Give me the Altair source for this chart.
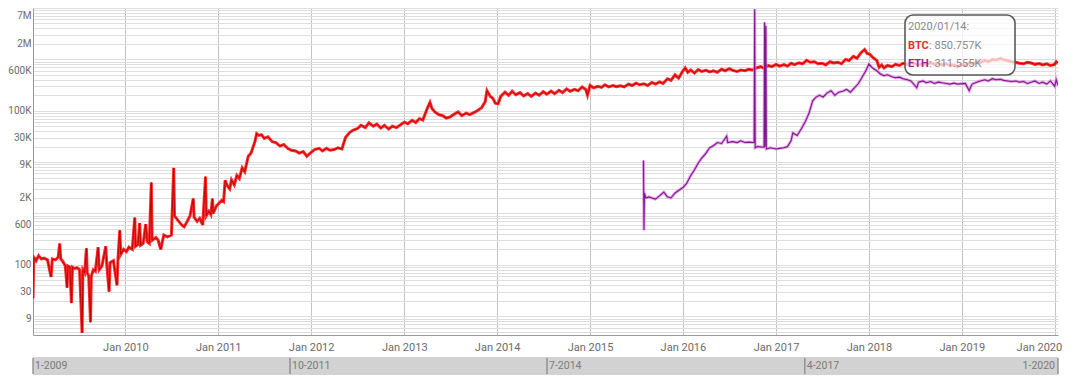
import altair as alt
import pandas as pd

# ---------------- data ----------------
btc_2009 = [
    ("2009-01-03", 22), ("2009-01-06", 140), ("2009-01-15", 120), ("2009-01-25", 150),
    ("2009-02-05", 130), ("2009-02-15", 135), ("2009-03-01", 125), ("2009-03-15", 58),
    ("2009-03-20", 130), ("2009-04-01", 125), ("2009-04-12", 140), ("2009-04-18", 260),
    ("2009-04-22", 130), ("2009-05-01", 115), ("2009-05-10", 95), ("2009-05-17", 36),
    ("2009-05-20", 95), ("2009-05-28", 90), ("2009-06-03", 18), ("2009-06-07", 90),
    ("2009-06-15", 85), ("2009-06-25", 88), ("2009-07-05", 80), ("2009-07-15", 4.7),
    ("2009-07-18", 80), ("2009-07-25", 70), ("2009-08-01", 210), ("2009-08-04", 70),
    ("2009-08-10", 60), ("2009-08-17", 7.6), ("2009-08-20", 60), ("2009-08-28", 80),
    ("2009-09-05", 75), ("2009-09-16", 220), ("2009-09-20", 80), ("2009-10-01", 95),
    ("2009-10-16", 230), ("2009-10-20", 100), ("2009-10-29", 30), ("2009-11-02", 110),
    ("2009-11-15", 120), ("2009-11-29", 40), ("2009-12-03", 130), ("2009-12-10", 470),
    ("2009-12-14", 160), ("2009-12-25", 200),
]
btc_2010 = [
    ("2010-01-05", 180), ("2010-01-15", 220), ("2010-01-28", 200), ("2010-02-07", 830),
    ("2010-02-10", 230), ("2010-02-20", 250), ("2010-02-26", 650), ("2010-03-02", 240),
    ("2010-03-12", 260), ("2010-03-22", 620), ("2010-03-28", 280), ("2010-04-05", 260),
    ("2010-04-13", 4000), ("2010-04-16", 300), ("2010-05-01", 340), ("2010-05-10", 300),
    ("2010-05-20", 200), ("2010-06-01", 380), ("2010-06-15", 350), ("2010-07-01", 380),
    ("2010-07-10", 7700), ("2010-07-13", 900), ("2010-07-25", 750), ("2010-08-10", 600),
    ("2010-08-20", 550), ("2010-09-01", 700), ("2010-09-12", 900), ("2010-09-25", 1950),
    ("2010-09-28", 850), ("2010-10-10", 700), ("2010-10-20", 800), ("2010-11-01", 600),
    ("2010-11-12", 5200), ("2010-11-15", 900), ("2010-11-25", 1100), ("2010-12-03", 950),
    ("2010-12-09", 1950), ("2010-12-12", 1000), ("2010-12-25", 1400),
]
btc_2011 = [
    ("2011-01-05", 1600), ("2011-01-15", 1800), ("2011-01-22", 1700), ("2011-01-28", 4400),
    ("2011-02-05", 3500), ("2011-02-15", 3000), ("2011-02-22", 4500), ("2011-03-05", 3600),
    ("2011-03-15", 5500), ("2011-03-25", 4800), ("2011-04-05", 7700), ("2011-04-15", 6500),
    ("2011-04-29", 13000), ("2011-05-10", 15000), ("2011-05-25", 25000), ("2011-06-01", 35800),
    ("2011-06-10", 33000), ("2011-06-20", 34000), ("2011-07-01", 29000), ("2011-07-15", 31000),
    ("2011-08-01", 25000), ("2011-08-15", 24000), ("2011-09-01", 20500), ("2011-09-15", 22000),
    ("2011-10-01", 18500), ("2011-10-15", 17000), ("2011-11-01", 16500), ("2011-11-15", 15000),
    ("2011-12-01", 16000), ("2011-12-15", 13000),
]
btc_2012 = [
    ("2012-01-01", 15500), ("2012-01-15", 17500), ("2012-02-01", 18500), ("2012-02-15", 16500),
    ("2012-03-01", 18500), ("2012-03-15", 17000), ("2012-04-01", 17500), ("2012-04-15", 19000),
    ("2012-05-01", 18000), ("2012-05-15", 30000), ("2012-06-01", 38000), ("2012-06-15", 42000),
    ("2012-07-01", 45000), ("2012-07-15", 52000), ("2012-08-01", 47000), ("2012-08-15", 58000),
    ("2012-09-01", 50000), ("2012-09-15", 55000), ("2012-10-01", 46000), ("2012-10-15", 52000),
    ("2012-11-01", 44000), ("2012-11-15", 50000), ("2012-12-01", 47000), ("2012-12-15", 52000),
]
btc_2013 = [
    ("2013-01-01", 60000), ("2013-01-15", 56000), ("2013-02-01", 65000), ("2013-02-15", 59000),
    ("2013-03-01", 70000), ("2013-03-15", 66000), ("2013-04-01", 110000), ("2013-04-12", 145000),
    ("2013-04-20", 110000), ("2013-05-01", 95000), ("2013-05-15", 85000), ("2013-06-01", 80000),
    ("2013-06-15", 72000), ("2013-07-01", 76000), ("2013-07-15", 85000), ("2013-08-01", 95000),
    ("2013-08-15", 80000), ("2013-09-01", 90000), ("2013-09-15", 84000), ("2013-10-01", 92000),
    ("2013-10-15", 100000), ("2013-11-01", 115000), ("2013-11-15", 150000), ("2013-11-22", 245000),
    ("2013-12-05", 190000), ("2013-12-15", 175000), ("2013-12-25", 140000),
]
btc_2014 = [
    ("2014-01-05", 137000), ("2014-01-15", 190000), ("2014-02-01", 230000), ("2014-02-15", 200000),
    ("2014-03-01", 240000), ("2014-03-15", 205000), ("2014-04-01", 225000), ("2014-04-15", 195000),
    ("2014-05-01", 215000), ("2014-05-15", 190000), ("2014-06-01", 220000), ("2014-06-15", 200000),
    ("2014-07-01", 235000), ("2014-07-15", 210000), ("2014-08-01", 240000), ("2014-08-15", 215000),
    ("2014-09-01", 250000), ("2014-09-15", 225000), ("2014-10-01", 265000), ("2014-10-15", 240000),
    ("2014-11-01", 260000), ("2014-11-15", 245000), ("2014-12-01", 290000), ("2014-12-15", 260000),
    ("2014-12-22", 200000),
]
btc_2015 = [
    ("2015-01-01", 310000), ("2015-01-15", 280000), ("2015-02-01", 300000), ("2015-02-15", 285000),
    ("2015-03-01", 320000), ("2015-03-15", 290000), ("2015-04-01", 310000), ("2015-04-15", 295000),
    ("2015-05-01", 305000), ("2015-05-15", 290000), ("2015-06-01", 330000), ("2015-06-15", 310000),
    ("2015-07-01", 345000), ("2015-07-15", 320000), ("2015-08-01", 335000), ("2015-08-15", 310000),
    ("2015-09-01", 355000), ("2015-09-15", 330000), ("2015-10-01", 365000), ("2015-10-15", 340000),
    ("2015-11-01", 420000), ("2015-11-15", 390000), ("2015-12-01", 500000), ("2015-12-15", 430000),
]
btc_2016 = [
    ("2016-01-01", 600000), ("2016-01-10", 680000), ("2016-01-20", 560000), ("2016-02-01", 620000),
    ("2016-02-15", 540000), ("2016-03-01", 630000), ("2016-03-15", 580000), ("2016-04-01", 610000),
    ("2016-04-15", 570000), ("2016-05-01", 600000), ("2016-05-15", 560000), ("2016-06-01", 640000),
    ("2016-06-15", 600000), ("2016-07-01", 660000), ("2016-07-15", 610000), ("2016-08-01", 580000),
    ("2016-08-15", 620000), ("2016-09-01", 600000), ("2016-09-15", 640000), ("2016-10-01", 620000),
    ("2016-10-15", 680000), ("2016-11-01", 720000), ("2016-11-15", 670000), ("2016-12-01", 760000),
    ("2016-12-15", 720000),
]
btc_2017 = [
    ("2017-01-01", 800000), ("2017-01-15", 740000), ("2017-02-01", 790000), ("2017-02-15", 740000),
    ("2017-03-01", 840000), ("2017-03-15", 790000), ("2017-04-01", 860000), ("2017-04-15", 820000),
    ("2017-05-01", 960000), ("2017-05-15", 880000), ("2017-06-01", 900000), ("2017-06-15", 820000),
    ("2017-07-01", 840000), ("2017-07-15", 780000), ("2017-08-01", 900000), ("2017-08-15", 850000),
    ("2017-09-01", 880000), ("2017-09-15", 820000), ("2017-10-01", 1000000), ("2017-10-15", 950000),
    ("2017-11-01", 1150000), ("2017-11-15", 1050000), ("2017-12-01", 1350000), ("2017-12-15", 1550000),
    ("2017-12-25", 1300000),
]
btc_2018 = [
    ("2018-01-05", 1250000), ("2018-01-15", 1100000), ("2018-02-01", 950000), ("2018-02-10", 700000),
    ("2018-02-20", 780000), ("2018-03-01", 680000), ("2018-03-15", 760000), ("2018-04-01", 720000),
    ("2018-04-15", 800000), ("2018-05-01", 760000), ("2018-05-15", 840000), ("2018-06-01", 800000),
    ("2018-06-15", 870000), ("2018-07-01", 820000), ("2018-07-15", 780000), ("2018-08-01", 840000),
    ("2018-08-15", 790000), ("2018-09-01", 860000), ("2018-09-15", 800000), ("2018-10-01", 840000),
    ("2018-10-15", 780000), ("2018-11-01", 820000), ("2018-11-15", 760000), ("2018-12-01", 780000),
    ("2018-12-15", 720000),
]
btc_2019 = [
    ("2019-01-01", 800000), ("2019-01-15", 760000), ("2019-02-01", 860000), ("2019-02-15", 820000),
    ("2019-03-01", 900000), ("2019-03-15", 860000), ("2019-04-01", 960000), ("2019-04-15", 900000),
    ("2019-05-01", 1000000), ("2019-05-15", 960000), ("2019-06-01", 1050000), ("2019-06-15", 980000),
    ("2019-07-01", 950000), ("2019-07-15", 900000), ("2019-08-01", 880000), ("2019-08-15", 840000),
    ("2019-09-01", 820000), ("2019-09-15", 880000), ("2019-10-01", 850000), ("2019-10-15", 800000),
    ("2019-11-01", 830000), ("2019-11-15", 780000), ("2019-12-01", 820000), ("2019-12-15", 760000),
    ("2020-01-01", 800000), ("2020-01-07", 900000), ("2020-01-14", 850757),
]

eth_2015 = [
    ("2015-07-30", 10700), ("2015-08-01", 470), ("2015-08-03", 2500), ("2015-08-08", 2000),
    ("2015-08-20", 2100), ("2015-09-01", 2000), ("2015-09-15", 1900), ("2015-10-01", 2200),
    ("2015-10-18", 2600), ("2015-11-01", 2100), ("2015-11-15", 2000), ("2015-12-01", 2500),
    ("2015-12-15", 2800),
]
eth_2016 = [
    ("2016-01-01", 3200), ("2016-01-15", 3800), ("2016-02-01", 5500), ("2016-02-15", 7000),
    ("2016-03-01", 9500), ("2016-03-15", 12000), ("2016-04-01", 15000), ("2016-04-15", 19000),
    ("2016-05-01", 21000), ("2016-05-15", 24000), ("2016-06-01", 23000), ("2016-06-21", 32000),
    ("2016-06-25", 24000), ("2016-07-15", 25000), ("2016-08-01", 24000), ("2016-08-15", 26000),
    ("2016-09-01", 24000), ("2016-09-15", 24500), ("2016-10-01", 24000), ("2016-10-07", 24000),
    ("2016-10-09", 9500000), ("2016-10-11", 19000), ("2016-10-20", 20000), ("2016-11-15", 19500),
    ("2016-11-17", 5300000), ("2016-11-19", 20000), ("2016-11-22", 4500000), ("2016-11-24", 18000),
    ("2016-12-10", 19000),
]
eth_2017 = [
    ("2017-01-01", 18000), ("2017-01-15", 18500), ("2017-02-01", 19000), ("2017-02-15", 20000),
    ("2017-03-01", 26000), ("2017-03-08", 37000), ("2017-03-25", 33000), ("2017-04-10", 44000),
    ("2017-04-25", 60000), ("2017-05-10", 88000), ("2017-05-25", 156000), ("2017-06-05", 180000),
    ("2017-06-20", 200000), ("2017-07-05", 185000), ("2017-07-20", 220000), ("2017-08-05", 245000),
    ("2017-08-20", 200000), ("2017-09-05", 230000), ("2017-09-20", 240000), ("2017-10-05", 260000),
    ("2017-10-20", 230000), ("2017-11-05", 280000), ("2017-11-20", 335000), ("2017-12-05", 450000),
    ("2017-12-20", 600000),
]
eth_2018 = [
    ("2018-01-01", 810000), ("2018-01-15", 680000), ("2018-02-01", 600000), ("2018-02-15", 520000),
    ("2018-03-01", 480000), ("2018-03-15", 500000), ("2018-04-01", 460000), ("2018-04-15", 440000),
    ("2018-05-01", 450000), ("2018-05-15", 420000), ("2018-06-01", 400000), ("2018-06-15", 380000),
    ("2018-07-08", 280000), ("2018-07-15", 360000), ("2018-08-01", 380000), ("2018-08-15", 350000),
    ("2018-09-01", 370000), ("2018-09-15", 340000), ("2018-10-01", 360000), ("2018-10-15", 350000),
    ("2018-11-01", 340000), ("2018-11-15", 330000), ("2018-12-01", 345000), ("2018-12-15", 330000),
]
eth_2019 = [
    ("2019-01-15", 340000), ("2019-01-30", 245000), ("2019-02-10", 330000), ("2019-03-01", 360000),
    ("2019-03-15", 380000), ("2019-04-01", 400000), ("2019-04-15", 380000), ("2019-05-01", 420000),
    ("2019-05-15", 400000), ("2019-06-01", 410000), ("2019-06-15", 390000), ("2019-07-01", 380000),
    ("2019-07-15", 370000), ("2019-08-01", 380000), ("2019-08-15", 360000), ("2019-09-01", 370000),
    ("2019-09-15", 340000), ("2019-10-01", 360000), ("2019-10-15", 380000), ("2019-11-01", 340000),
    ("2019-11-15", 360000), ("2019-12-01", 330000), ("2019-12-15", 380000), ("2020-01-01", 300000),
    ("2020-01-07", 400000), ("2020-01-14", 311555),
]

y_label_values = [9, 30, 100, 600, 2000, 9000, 30000, 100000, 600000, 2000000, 7000000]
grid_mantissas = [1, 2, 3, 4, 5, 6, 7, 8, 9]
grid_exponents = [0, 1, 2, 3, 4, 5, 6, 7]
x_tick_years = [2010, 2011, 2012, 2013, 2014, 2015, 2016, 2017, 2018, 2019, 2020]
nav_dates = ["2009-01-03", "2011-10-10", "2014-07-16", "2017-04-24"]
nav_labels = ["1-2009", "10-2011", "7-2014", "4-2017"]
nav_end_date = ["2020-01-14"]
nav_end_label = ["1-2020"]
tooltip_date = "2020/01/14:"

# ---------------- build tables ----------------
btc_rows = btc_2009 + btc_2010 + btc_2011 + btc_2012 + btc_2013 + btc_2014 + btc_2015 + btc_2016 + btc_2017 + btc_2018 + btc_2019
eth_rows = eth_2015 + eth_2016 + eth_2017 + eth_2018 + eth_2019
btc_df = pd.DataFrame(btc_rows, columns=["date", "value"])
eth_df = pd.DataFrame(eth_rows, columns=["date", "value"])

Y_MIN, Y_MAX = 4.3, 1.0e7
grid_values = [m * 10 ** e for e in grid_exponents for m in grid_mantissas if Y_MIN <= m * 10 ** e <= Y_MAX]

label_list = ",".join(str(v) for v in y_label_values)
label_expr = (
    f"indexof([{label_list}], datum.value) >= 0 ? "
    "(datum.value >= 1000000 ? (datum.value / 1000000) + 'M' : "
    "(datum.value >= 1000 ? (datum.value / 1000) + 'K' : '' + datum.value)) : ''"
)

FONT = "Roboto"
W, H = 1025, 327

x_enc = alt.X(
    "date:T",
    scale=alt.Scale(
        type="utc",
        domain=[alt.DateTime(year=2009, month=1, date=3, utc=True),
                alt.DateTime(year=2020, month=1, date=14, utc=True)],
    ),
    axis=alt.Axis(
        values=[alt.DateTime(year=y, month=1, date=1, utc=True) for y in x_tick_years],
        format="%b %Y",
        title=None,
        grid=True,
        gridColor="#c4c4c4",
        gridWidth=1,
        ticks=False,
        domainColor="#9a9a9a",
        labelColor="#6b6b6b",
        labelFontSize=11,
        labelFont=FONT,
        labelPadding=6,
        labelOverlap=False,
        labelFlush=6,
        labelFlushOffset=7,
    ),
)
y_enc = alt.Y(
    "value:Q",
    scale=alt.Scale(type="log", domain=[Y_MIN, Y_MAX], nice=False),
    axis=alt.Axis(
        values=grid_values,
        labelExpr=label_expr,
        title=None,
        grid=True,
        gridColor="#dedede",
        gridWidth=1,
        ticks=False,
        domainColor="#9a9a9a",
        labelColor="#6b6b6b",
        labelFontSize=10,
        labelFont=FONT,
        labelPadding=2,
        labelOverlap=False,
    ),
)

btc_halo = alt.Chart(btc_df).mark_line(color="#ff2a2a", strokeWidth=3.0, clip=True).encode(x=x_enc, y=y_enc)
btc_core = alt.Chart(btc_df).mark_line(color="#b80000", strokeWidth=0.9, clip=True).encode(x=x_enc, y=y_enc)
eth_halo = alt.Chart(eth_df).mark_line(color="#e07ae0", strokeWidth=3.0, opacity=0.7, clip=True).encode(x=x_enc, y=y_enc)
eth_core = alt.Chart(eth_df).mark_line(color="#7a1a8c", strokeWidth=1.1, clip=True).encode(x=x_enc, y=y_enc)

# navigator strip below the axis
one = pd.DataFrame({"a": [0]})
nav_band = alt.Chart(one).mark_rect(color="#d2d2d2").encode(
    x=alt.value(0), x2=alt.value(W), y=alt.value(349), y2=alt.value(367)
)
nav_df = pd.DataFrame({"date": nav_dates, "label": nav_labels})
nav_end_df = pd.DataFrame({"date": nav_end_date, "label": nav_end_label})
nav_ticks = alt.Chart(pd.concat([nav_df, nav_end_df])).mark_rule(color="#808080", strokeWidth=1.2).encode(
    x="date:T", y=alt.value(350), y2=alt.value(366)
)
nav_text = alt.Chart(nav_df).mark_text(
    align="left", baseline="middle", dx=2, fontSize=10.5, font=FONT, color="#7a7a7a"
).encode(x="date:T", y=alt.value(358), text="label:N")
nav_end_text = alt.Chart(nav_end_df).mark_text(
    align="right", baseline="middle", dx=-3, fontSize=10.5, font=FONT, color="#7a7a7a"
).encode(x="date:T", y=alt.value(358), text="label:N")

# hover box (plot-area pixel offsets)
btc_last = f": {btc_rows[-1][1] / 1000:.3f}K"
eth_last = f": {eth_rows[-1][1] / 1000:.3f}K"
tip_box = alt.Chart(one).mark_rect(
    cornerRadius=8, fill="white", fillOpacity=0.72, stroke="#5a5a5a", strokeWidth=1.6
).encode(x=alt.value(872), x2=alt.value(982), y=alt.value(7), y2=alt.value(67))
tip_date = alt.Chart(one).mark_text(align="left", baseline="middle", fontSize=11, font=FONT, color="#8a8a8a").encode(
    x=alt.value(875), y=alt.value(19), text=alt.value(tooltip_date)
)
tip_btc_name = alt.Chart(one).mark_text(align="left", baseline="middle", fontSize=11, font=FONT, fontWeight="bold", color="#e83030").encode(
    x=alt.value(875), y=alt.value(38), text=alt.value("BTC")
)
tip_btc_val = alt.Chart(one).mark_text(align="left", baseline="middle", fontSize=11, font=FONT, color="#8a8a8a").encode(
    x=alt.value(896), y=alt.value(38), text=alt.value(btc_last)
)
tip_eth_name = alt.Chart(one).mark_text(align="left", baseline="middle", fontSize=11, font=FONT, fontWeight="bold", color="#8e2a9e").encode(
    x=alt.value(875), y=alt.value(56), text=alt.value("ETH")
)
tip_eth_val = alt.Chart(one).mark_text(align="left", baseline="middle", fontSize=11, font=FONT, color="#8a8a8a").encode(
    x=alt.value(896), y=alt.value(56), text=alt.value(eth_last)
)

chart = alt.layer(
    btc_halo, btc_core, eth_halo, eth_core,
    nav_band, nav_ticks, nav_text, nav_end_text,
    tip_box, tip_date, tip_btc_name, tip_btc_val, tip_eth_name, tip_eth_val,
).properties(
    width=W, height=H,
    autosize="none",
    padding={"left": 25, "top": 0, "right": 14, "bottom": 40},
    background="white",
).configure_view(stroke=None)

chart.save("out.html", embed_options={"renderer": "svg", "actions": False})
